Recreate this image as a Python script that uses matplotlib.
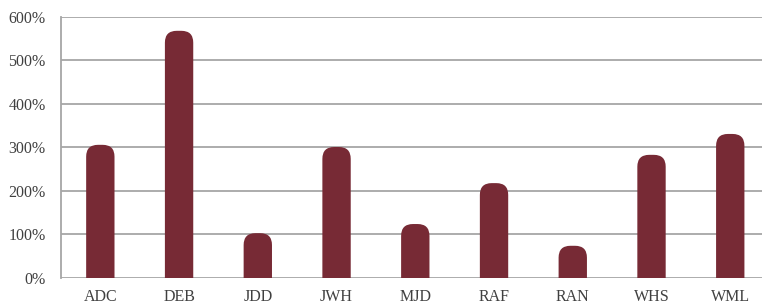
import matplotlib.pyplot as plt
from matplotlib.patches import FancyBboxPatch
import numpy as np

# Daten
kategorien = ['ADC', 'DEB', 'JDD', 'JWH', 'MJD', 'RAF', 'RAN', 'WHS', 'WML']
werte = [306, 568, 103, 301, 124, 218, 74, 283, 331]
yticks = [0, 100, 200, 300, 400, 500, 600]
ytick_labels = ['0%', '100%', '200%', '300%', '400%', '500%', '600%']

farbe = '#772a35'
textfarbe = '#404040'
plt.rcParams['font.family'] = ['Liberation Serif', 'DejaVu Serif']

fig = plt.figure(figsize=(7.62, 3.07), dpi=100)
ax = fig.add_axes([0.080, 0.0945, 0.930, 0.8505])

x = np.arange(len(kategorien))
bars = ax.bar(x, werte, width=0.36, color=farbe, zorder=3)

ax.set_xlim(-0.5, len(kategorien) - 0.5)
ax.set_ylim(0, 600)

# Balken mit abgerundeter Oberkante
fig.canvas.draw()
p0 = ax.transData.transform((0, 0))
p1 = ax.transData.transform((1, 1))
aspect = (p1[0] - p0[0]) / (p1[1] - p0[1])
radius = 0.15
for b in bars:
    b.set_visible(False)
    bx, bw, bh = b.get_x(), b.get_width(), b.get_height()
    unten = -radius * aspect
    patch = FancyBboxPatch((bx, unten), bw, bh - unten,
                           boxstyle=f'round,pad=0,rounding_size={radius}',
                           mutation_aspect=aspect, facecolor=farbe,
                           edgecolor='none', zorder=3, clip_on=True)
    ax.add_patch(patch)

ax.set_yticks(yticks)
ax.set_yticklabels(ytick_labels)
ax.set_xticks(x)
ax.set_xticklabels(kategorien)
ax.tick_params(axis='both', length=0, labelsize=11.5, colors=textfarbe)
ax.tick_params(axis='y', pad=11)
ax.tick_params(axis='x', pad=8)

ax.grid(axis='y', color='#a6a6a6', linewidth=1.3, zorder=0)
for s in ['top', 'right', 'bottom']:
    ax.spines[s].set_visible(False)
ax.spines['left'].set_color('#a6a6a6')
ax.spines['left'].set_linewidth(1.3)

fig.savefig('out.png', dpi=100)
